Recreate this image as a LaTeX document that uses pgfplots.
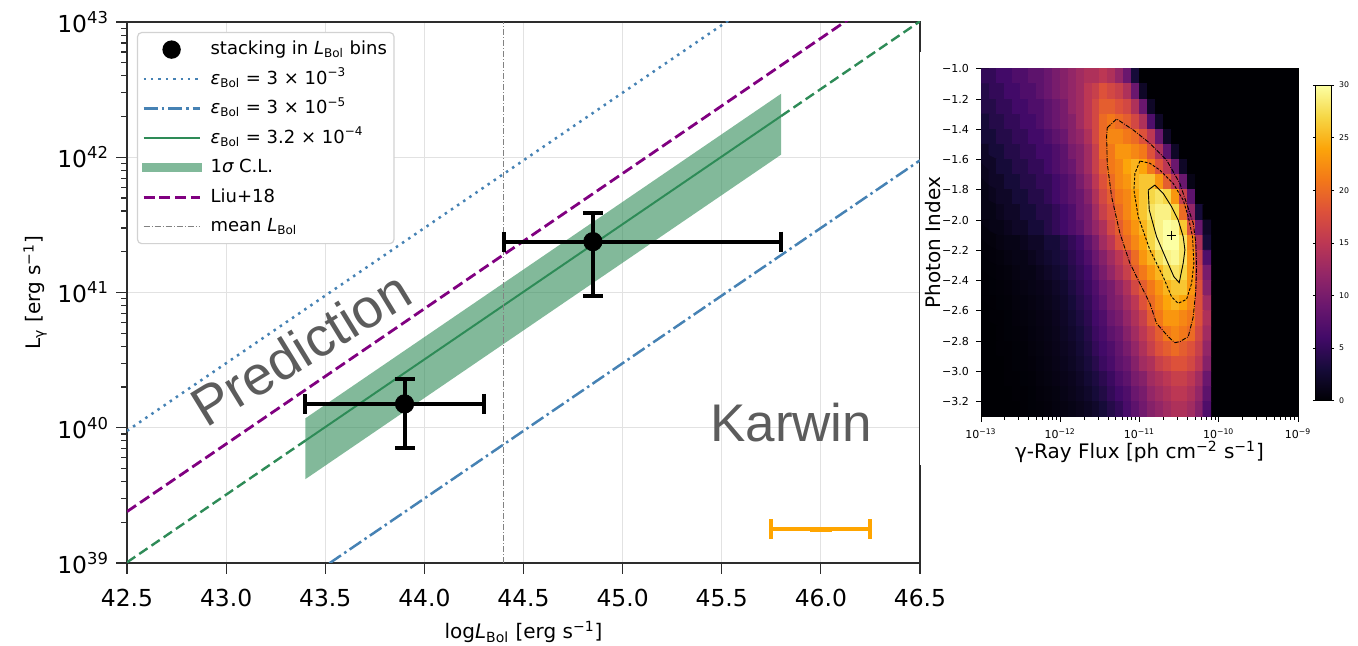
\documentclass[border=0pt]{standalone}
\usepackage{fontspec}
\setmainfont{DejaVu Sans}
\newfontfamily\arialfont{Liberation Sans}
\usepackage{pgfplots}
\pgfplotsset{compat=1.18}

\definecolor{steel}{RGB}{70,130,180}
\definecolor{sgreen}{RGB}{46,139,87}
\definecolor{lpurple}{RGB}{128,0,128}
\definecolor{txtgrey}{RGB}{92,92,92}
\definecolor{gridgrey}{RGB}{226,226,226}
\definecolor{spine}{RGB}{45,45,45}
\definecolor{meangrey}{RGB}{130,130,130}
\definecolor{barorange}{RGB}{255,165,0}
\definecolor{infblack}{RGB}{0,0,4}
\definecolor{legframe}{RGB}{210,210,210}

\pgfplotsset{
  colormap={inferno}{
    rgb255(0cm)=(0,0,4) rgb255(1cm)=(22,11,57) rgb255(2cm)=(66,10,104)
    rgb255(3cm)=(106,23,110) rgb255(4cm)=(147,38,103) rgb255(5cm)=(188,55,84)
    rgb255(6cm)=(221,81,58) rgb255(7cm)=(243,120,25) rgb255(8cm)=(252,165,10)
    rgb255(9cm)=(246,215,70) rgb255(10cm)=(252,255,164)},
  /pgf/number format/assume math mode=true,
}

\newcommand{\eps}{{\itshape ε}\textsubscript{Bol}}
\newcommand{\LBol}{{\itshape L}\textsubscript{Bol}}

\begin{document}
\begin{tikzpicture}
\path[use as bounding box] (0,0) rectangle (679pt,323pt);
\clip (0,0) rectangle (679pt,323pt);

% ---------------- gamma-ray luminosity vs bolometric luminosity ----------------
\begin{axis}[
  at={(63.5pt,41.5pt)}, anchor=south west, scale only axis,
  width=396.5pt, height=270.5pt,
  xmin=42.5, xmax=46.5, ymin=39, ymax=43,
  xtick={42.5,43,43.5,44,44.5,45,45.5,46,46.5},
  xticklabels={42.5,43.0,43.5,44.0,44.5,45.0,45.5,46.0,46.5},
  ytick={39,40,41,42,43},
  yticklabels={10\textsuperscript{39},10\textsuperscript{40},10\textsuperscript{41},10\textsuperscript{42},10\textsuperscript{43}},
  minor ytick={39.301,39.477,39.602,39.699,39.778,39.845,39.903,39.954,
               40.301,40.477,40.602,40.699,40.778,40.845,40.903,40.954,
               41.301,41.477,41.602,41.699,41.778,41.845,41.903,41.954,
               42.301,42.477,42.602,42.699,42.778,42.845,42.903,42.954},
  tick pos=left, tick align=outside,
  major tick length=5.5pt, minor tick length=3pt,
  grid=major, grid style={gridgrey, line width=0.5pt},
  axis line style={spine, line width=0.6pt},
  tick style={spine, line width=0.6pt},
  tick label style={font=\fontsize{11.7}{14}\selectfont},
  xticklabel style={yshift=-4pt},
  label style={font=\fontsize{11.7}{14}\selectfont},
  xlabel={log\LBol{} [erg s\textsuperscript{−1}]},
  ylabel={L\textsubscript{γ} [erg s\textsuperscript{−1}]},
  every axis x label/.style={at={(rel axis cs:0.5,0)}, anchor=center, yshift=-34.5pt},
  every axis y label/.style={at={(rel axis cs:0,0.5)}, anchor=center, xshift=-46pt, rotate=90},
  legend image code/.code={\draw[#1] (0pt,0pt) -- (28pt,0pt);},
  legend cell align=left,
  legend style={at={(0.0126,0.9815)}, anchor=north west,
    draw=legframe, line width=0.6pt, rounded corners=2pt, fill=white,
    font=\fontsize{9}{10.5}\selectfont,
    inner xsep=2pt, inner ysep=2pt, row sep=1.75pt, column sep=3pt,
    nodes={inner sep=1.5pt, text height=7.6pt, text depth=2.4pt}},
]
% legend entries
\addlegendimage{legend image code/.code={\fill[black, draw=none] (14pt,0pt) circle (4.6pt);}}
\addlegendentry{stacking in \LBol{} bins}
\addlegendimage{steel, line width=1.25pt, dash pattern=on 1.25pt off 2.45pt}
\addlegendentry{\eps{} = 3 × 10\textsuperscript{−3}}
\addlegendimage{steel, line width=1.25pt, dash pattern=on 7pt off 2pt on 1.25pt off 2pt}
\addlegendentry{\eps{} = 3 × 10\textsuperscript{−5}}
\addlegendimage{sgreen, line width=1pt}
\addlegendentry{\eps{} = 3.2 × 10\textsuperscript{−4}}
\addlegendimage{legend image code/.code={\path[fill=sgreen, fill opacity=0.6, draw=none, sharp corners] (-1pt,-2.1pt) rectangle (29pt,2.1pt);}}
\addlegendentry{1{\itshape σ} C.L.}
\addlegendimage{lpurple, line width=1.4pt, dash pattern=on 5.5pt off 2.4pt}
\addlegendentry{Liu+18}
\addlegendimage{meangrey, line width=0.5pt, dash pattern=on 3.2pt off 0.9pt on 0.5pt off 0.9pt}
\addlegendentry{mean \LBol}

% 1 sigma band around the best fit
\addplot[fill=sgreen, fill opacity=0.6, draw=none, forget plot]
  coordinates {(43.4,40.07) (45.8,42.47) (45.8,42.02) (43.4,39.62)} -- cycle;
% efficiency lines
\addplot[steel, line width=1.25pt, dash pattern=on 1.25pt off 2.45pt, forget plot]
  coordinates {(42.5,39.977) (46.5,43.977)};
\addplot[steel, line width=1.25pt, dash pattern=on 7pt off 2pt on 1.25pt off 2pt, forget plot]
  coordinates {(42.5,37.977) (46.5,41.977)};
\addplot[sgreen, line width=1.2pt, dash pattern=on 5pt off 2.4pt, forget plot]
  coordinates {(42.5,39.005) (43.4,39.905)};
\addplot[sgreen, line width=1.2pt, dash pattern=on 5pt off 2.4pt, forget plot]
  coordinates {(45.8,42.305) (46.5,43.005)};
\addplot[sgreen, line width=1pt, forget plot]
  coordinates {(43.4,39.905) (45.8,42.305)};
\addplot[lpurple, line width=1.4pt, dash pattern=on 5.5pt off 2.4pt, forget plot]
  coordinates {(42.5,39.38) (46.5,43.38)};
% mean bolometric luminosity
\addplot[meangrey, line width=0.5pt, dash pattern=on 3.2pt off 0.9pt on 0.5pt off 0.9pt, forget plot]
  coordinates {(44.4,39) (44.4,43)};
% stacked detections
\addplot[black, only marks, mark=*, mark size=4.6pt, forget plot,
  error bars/.cd, x dir=both, x explicit, y dir=both, y explicit,
  error bar style={line width=2pt, black},
  error mark options={rotate=90, mark size=5pt, line width=2pt, black}]
  coordinates {
    (43.9,40.176)  += (0.4,0.186)  -= (0.5,0.326)
    (44.85,41.376) += (0.95,0.21)  -= (0.45,0.402)
  };
% bin width marker
\addplot[barorange, only marks, mark=-, mark size=5.5pt, mark options={line width=2.6pt}, forget plot,
  error bars/.cd, x dir=both, x explicit,
  error bar style={line width=2pt, barorange},
  error mark options={rotate=90, mark size=5pt, line width=2pt, barorange}]
  coordinates {(46.0,39.25) +- (0.25,0)};

\node[font=\arialfont\fontsize{27.5}{28}\selectfont, text=txtgrey, rotate=31.5,
  anchor=base west, inner sep=0pt] at (axis cs:42.9,39.99) {Prediction};
\node[font=\arialfont\fontsize{26.5}{27}\selectfont, text=txtgrey,
  anchor=base west, inner sep=0pt] at (axis cs:45.44,39.897) {Karwin};
\end{axis}

% background of the TS map panel
\fill[white] (459.75pt,90.5pt) rectangle (679pt,297pt);

% ---------------- TS map ----------------
\begin{axis}[
  at={(490.5pt,114.65pt)}, anchor=south west, scale only axis,
  width=158.5pt, height=174pt,
  xmin=-13, xmax=-9, ymin=-3.3, ymax=-1.0,
  enlargelimits=false,
  axis background/.style={fill=infblack},
  xtick={-13,-12,-11,-10,-9},
  xticklabels={10\textsuperscript{−13},10\textsuperscript{−12},10\textsuperscript{−11},10\textsuperscript{−10},10\textsuperscript{−9}},
  minor xtick={-12.699,-12.523,-12.398,-12.301,-12.222,-12.155,-12.097,-12.046,
               -11.699,-11.523,-11.398,-11.301,-11.222,-11.155,-11.097,-11.046,
               -10.699,-10.523,-10.398,-10.301,-10.222,-10.155,-10.097,-10.046,
               -9.699,-9.523,-9.398,-9.301,-9.222,-9.155,-9.097,-9.046},
  ytick={-3.2,-3.0,-2.8,-2.6,-2.4,-2.2,-2.0,-1.8,-1.6,-1.4,-1.2,-1.0},
  yticklabels={−3.2,−3.0,−2.8,−2.6,−2.4,−2.2,−2.0,−1.8,−1.6,−1.4,−1.2,−1.0},
  tick pos=left, tick align=outside,
  major tick length=2.5pt, minor tick length=1.5pt,
  axis line style={black, line width=0.4pt},
  tick style={black, line width=0.4pt},
  tick label style={font=\fontsize{5.5}{6.5}\selectfont},
  label style={font=\fontsize{7.3}{8.5}\selectfont},
  xlabel={γ-Ray Flux [ph cm\textsuperscript{−2} s\textsuperscript{−1}]},
  ylabel={Photon Index},
  every axis x label/.style={at={(rel axis cs:0.5,0)}, anchor=center, yshift=-17.6pt},
  every axis y label/.style={at={(rel axis cs:0,0.5)}, anchor=center, xshift=-24pt, rotate=90},
  colormap name=inferno, point meta min=0, point meta max=30,
  colorbar,
  colorbar style={at={(1.056,0.953)}, anchor=north west, scale only axis,
    width=7.65pt, height=157.85pt,
    ytick={0,5,10,15,20,25,30},
    tick label style={font=\fontsize{3.9}{4.5}\selectfont},
    yticklabel style={xshift=-1pt},
    major tick length=1.5pt, tick align=outside,
    axis line style={black, line width=0.3pt},
    tick style={black, line width=0.3pt}},
]
% TS values, one row per photon index bin (-1.05 ... -3.25),
% flux bins from 10^-12.95 to 10^-10.15 in steps of 0.1 dex
\addplot[matrix plot*, mesh/cols=29, mesh/rows=23, point meta=explicit]
  table[header=false, row sep=\\, meta index=0,
        x expr={-12.95+0.1*mod(\coordindex,29)},
        y expr={-1.05-0.1*floor(\coordindex/29)}] {
5\\ 5\\ 6\\ 6\\ 7\\ 7\\ 8\\ 8\\ 9\\ 10\\ 11\\ 12\\ 13\\ 14\\ 14\\ 15\\ 14\\ 12\\ 9\\ 3\\ 0\\ 0\\ 0\\ 0\\ 0\\ 0\\ 0\\ 0\\ 0\\
4\\ 5\\ 5\\ 6\\ 6\\ 7\\ 7\\ 8\\ 9\\ 10\\ 11\\ 12\\ 13\\ 15\\ 16\\ 18\\ 17\\ 16\\ 14\\ 9\\ 2\\ 0\\ 0\\ 0\\ 0\\ 0\\ 0\\ 0\\ 0\\
4\\ 4\\ 5\\ 5\\ 6\\ 6\\ 7\\ 7\\ 8\\ 9\\ 10\\ 12\\ 13\\ 15\\ 17\\ 19\\ 19\\ 18\\ 17\\ 14\\ 9\\ 2\\ 0\\ 0\\ 0\\ 0\\ 0\\ 0\\ 0\\
3\\ 4\\ 4\\ 5\\ 5\\ 6\\ 6\\ 7\\ 8\\ 9\\ 10\\ 11\\ 13\\ 15\\ 17\\ 20\\ 21\\ 20\\ 19\\ 17\\ 14\\ 7\\ 2\\ 0\\ 0\\ 0\\ 0\\ 0\\ 0\\
3\\ 3\\ 4\\ 4\\ 5\\ 5\\ 6\\ 6\\ 7\\ 8\\ 9\\ 11\\ 12\\ 14\\ 17\\ 20\\ 22\\ 22\\ 21\\ 20\\ 18\\ 15\\ 9\\ 2\\ 0\\ 0\\ 0\\ 0\\ 0\\
2\\ 3\\ 3\\ 4\\ 4\\ 5\\ 5\\ 6\\ 6\\ 7\\ 8\\ 10\\ 11\\ 13\\ 16\\ 20\\ 21\\ 23\\ 23\\ 22\\ 21\\ 18\\ 14\\ 8\\ 2\\ 0\\ 0\\ 0\\ 0\\
2\\ 2\\ 3\\ 3\\ 4\\ 4\\ 5\\ 5\\ 6\\ 7\\ 8\\ 9\\ 11\\ 13\\ 16\\ 19\\ 21\\ 22\\ 24\\ 25\\ 24\\ 21\\ 18\\ 15\\ 9\\ 2\\ 0\\ 0\\ 0\\
1.5\\ 2\\ 2\\ 3\\ 3\\ 4\\ 4\\ 5\\ 5\\ 6\\ 7\\ 8\\ 10\\ 12\\ 15\\ 18\\ 20\\ 22\\ 23\\ 25\\ 26\\ 26\\ 23\\ 19\\ 15\\ 9\\ 1\\ 0\\ 0\\
1\\ 1.5\\ 2\\ 2\\ 3\\ 3\\ 4\\ 4\\ 5\\ 6\\ 7\\ 8\\ 9\\ 11\\ 14\\ 17\\ 19\\ 21\\ 22\\ 24\\ 26\\ 27\\ 28\\ 27\\ 23\\ 16\\ 8\\ 0\\ 0\\
1\\ 1\\ 1.5\\ 2\\ 2\\ 3\\ 3\\ 4\\ 4\\ 5\\ 6\\ 7\\ 9\\ 10\\ 13\\ 16\\ 18\\ 20\\ 22\\ 24\\ 26\\ 28\\ 29\\ 29\\ 27\\ 20\\ 12\\ 3\\ 0\\
0.8\\ 1\\ 1\\ 1.5\\ 2\\ 2\\ 3\\ 3\\ 4\\ 5\\ 6\\ 7\\ 8\\ 10\\ 12\\ 14\\ 17\\ 19\\ 21\\ 23\\ 25\\ 27\\ 29\\ 30\\ 29.5\\ 26\\ 18\\ 9\\ 2\\
0.5\\ 0.5\\ 0.8\\ 1\\ 1\\ 1.5\\ 2\\ 2\\ 3\\ 3\\ 4\\ 5\\ 6\\ 8\\ 10\\ 13\\ 15\\ 18\\ 20\\ 22\\ 24\\ 27\\ 29\\ 30\\ 30\\ 28\\ 22\\ 14\\ 3\\
0.3\\ 0.4\\ 0.5\\ 0.8\\ 1\\ 1\\ 1.5\\ 2\\ 2.5\\ 3\\ 3.5\\ 4.5\\ 5.5\\ 7\\ 9\\ 11\\ 13\\ 15\\ 17\\ 20\\ 23\\ 25\\ 27.5\\ 29\\ 29.5\\ 28\\ 23\\ 16\\ 7\\
0.2\\ 0.3\\ 0.4\\ 0.5\\ 0.8\\ 1\\ 1\\ 1.5\\ 2\\ 2.5\\ 3\\ 4\\ 5\\ 6\\ 8\\ 10\\ 12\\ 14\\ 16\\ 19\\ 21\\ 23\\ 25\\ 27\\ 28\\ 27\\ 23\\ 17\\ 10\\
0.1\\ 0.2\\ 0.3\\ 0.4\\ 0.6\\ 0.8\\ 1\\ 1.2\\ 1.5\\ 2\\ 2.5\\ 3.5\\ 4.5\\ 5.5\\ 7\\ 9\\ 10\\ 12\\ 14\\ 17\\ 19\\ 21\\ 23\\ 25\\ 26\\ 26\\ 23\\ 18\\ 11\\
0.1\\ 0.1\\ 0.2\\ 0.3\\ 0.5\\ 0.6\\ 0.8\\ 1\\ 1.3\\ 1.7\\ 2.2\\ 3\\ 4\\ 5\\ 6.5\\ 8\\ 10\\ 11\\ 13\\ 15\\ 18\\ 20\\ 22\\ 24\\ 25\\ 24\\ 22\\ 18\\ 13\\
0\\ 0.1\\ 0.1\\ 0.2\\ 0.4\\ 0.5\\ 0.7\\ 0.9\\ 1.1\\ 1.5\\ 2\\ 2.6\\ 3.5\\ 4.5\\ 6\\ 7\\ 9\\ 10\\ 12\\ 14\\ 16\\ 19\\ 21\\ 23\\ 23\\ 22\\ 21\\ 18\\ 14\\
0\\ 0\\ 0.1\\ 0.2\\ 0.3\\ 0.4\\ 0.6\\ 0.8\\ 1\\ 1.3\\ 1.8\\ 2.3\\ 3\\ 4\\ 5.5\\ 6.5\\ 8\\ 9\\ 11\\ 13\\ 15\\ 17\\ 19\\ 21\\ 22\\ 21\\ 20\\ 17\\ 13\\
0\\ 0\\ 0.1\\ 0.1\\ 0.2\\ 0.3\\ 0.5\\ 0.7\\ 0.9\\ 1.2\\ 1.6\\ 2\\ 2.7\\ 3.6\\ 5\\ 6\\ 7\\ 8.5\\ 10\\ 12\\ 14\\ 16\\ 18\\ 19\\ 20\\ 19\\ 18\\ 16\\ 12\\
0\\ 0\\ 0\\ 0.1\\ 0.2\\ 0.3\\ 0.4\\ 0.6\\ 0.8\\ 1.1\\ 1.4\\ 1.8\\ 2.4\\ 3.2\\ 4.2\\ 5.5\\ 6.5\\ 8\\ 9\\ 11\\ 13\\ 14\\ 16\\ 17\\ 18\\ 18\\ 17\\ 15\\ 11\\
0\\ 0\\ 0\\ 0.1\\ 0.1\\ 0.2\\ 0.3\\ 0.5\\ 0.7\\ 0.9\\ 1.2\\ 1.5\\ 2\\ 2.7\\ 3.5\\ 4.5\\ 5.5\\ 7\\ 8\\ 10\\ 11\\ 13\\ 14\\ 15\\ 16\\ 16\\ 15\\ 13\\ 9\\
0\\ 0\\ 0\\ 0\\ 0.1\\ 0.1\\ 0.2\\ 0.4\\ 0.5\\ 0.7\\ 1\\ 1.3\\ 1.7\\ 2.2\\ 3\\ 3.8\\ 5\\ 6\\ 7\\ 9\\ 10\\ 12\\ 13\\ 14\\ 15\\ 15\\ 14\\ 12\\ 8\\
0\\ 0\\ 0\\ 0\\ 0\\ 0.1\\ 0.2\\ 0.3\\ 0.4\\ 0.6\\ 0.8\\ 1\\ 1.3\\ 1.7\\ 2.2\\ 3\\ 4\\ 5\\ 6.5\\ 8\\ 9.5\\ 11\\ 12\\ 13\\ 14\\ 14\\ 13\\ 11\\ 7\\
};
% confidence contours
\addplot[black, line width=0.45pt, dash pattern=on 2.2pt off 0.7pt on 0.4pt off 0.7pt]
  coordinates {(-11.407,-1.390) (-11.289,-1.332) (-11.079,-1.405) (-10.869,-1.493)
    (-10.659,-1.603) (-10.491,-1.758) (-10.406,-1.890) (-10.322,-2.022) (-10.289,-2.154)
    (-10.280,-2.308) (-10.289,-2.463) (-10.322,-2.639) (-10.385,-2.771) (-10.491,-2.804)
    (-10.554,-2.811) (-10.638,-2.771) (-10.785,-2.683) (-10.869,-2.551) (-10.995,-2.419)
    (-11.121,-2.286) (-11.247,-2.088) (-11.352,-1.846) (-11.407,-1.625) (-11.415,-1.449)
    (-11.407,-1.390)};
\addplot[black, line width=0.45pt, dash pattern=on 1.4pt off 0.8pt]
  coordinates {(-10.995,-1.610) (-11.058,-1.692) (-11.071,-1.802) (-11.016,-1.978)
    (-10.869,-2.198) (-10.701,-2.375) (-10.596,-2.507) (-10.512,-2.551) (-10.406,-2.524)
    (-10.343,-2.419) (-10.314,-2.286) (-10.331,-2.110) (-10.385,-1.978) (-10.449,-1.868)
    (-10.575,-1.758) (-10.743,-1.670) (-10.869,-1.625) (-10.995,-1.610)};
\addplot[black, line width=0.45pt]
  coordinates {(-10.806,-1.769) (-10.890,-1.802) (-10.877,-1.934) (-10.785,-2.110)
    (-10.659,-2.264) (-10.566,-2.375) (-10.499,-2.414) (-10.449,-2.286) (-10.427,-2.198)
    (-10.449,-2.110) (-10.512,-2.000) (-10.596,-1.912) (-10.701,-1.824) (-10.806,-1.769)};
% best-fit position
\addplot[black, only marks, mark=+, mark size=2.3pt, mark options={line width=0.35pt}]
  coordinates {(-10.6,-2.1)};
\end{axis}

\node[rotate=90, font=\fontsize{7.3}{8.5}\selectfont, inner sep=0pt] at (682pt,200pt) {TS};
\end{tikzpicture}
\end{document}
